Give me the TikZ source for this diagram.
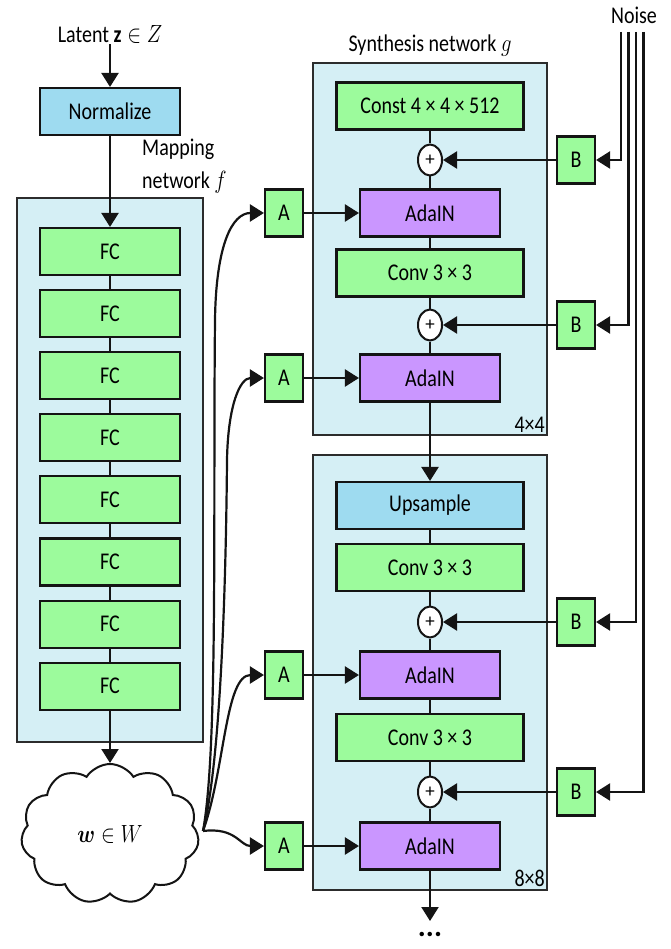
\documentclass[tikz,border=0pt]{standalone}
\usepackage{fontspec}
\setmainfont{Carlito}
\usepackage{bm}
\usepackage{graphicx}
\usetikzlibrary{arrows.meta,shapes.geometric,shapes.symbols}
\definecolor{grn}{HTML}{9CFB9C}
\definecolor{prp}{HTML}{CA96FF}
\definecolor{lblue}{HTML}{9EDBF0}
\definecolor{pane}{HTML}{D5EFF5}
\definecolor{edge}{HTML}{141414}
\newcommand{\vs}[1]{\scalebox{1}[1.2]{#1}}
\begin{document}
\begin{tikzpicture}[x=1pt,y=-1pt,
  txt/.style={font=\fontsize{20}{24}\selectfont, inner sep=1pt},
  blk/.style={draw=edge, line width=2.1pt, minimum height=47pt, inner sep=0pt, font=\fontsize{20}{24}\selectfont},
  gbox/.style={blk, fill=grn, minimum width=140pt},
  wbox/.style={blk, fill=grn, minimum width=187pt},
  bbox/.style={blk, fill=lblue, minimum width=140pt},
  ubox/.style={blk, fill=lblue, minimum width=187pt},
  pbox/.style={blk, fill=prp, minimum width=140pt},
  sbox/.style={blk, fill=grn, minimum width=38pt},
  panel/.style={draw=edge!90, line width=1.9pt, fill=pane, inner sep=0pt},
  plus/.style={ellipse, draw=edge, line width=2pt, fill=white, minimum width=24pt, minimum height=31pt, inner sep=0pt, font=\fontsize{19}{19}\selectfont},
  ln/.style={draw=edge, line width=2.2pt},
  arr/.style={ln, -{Triangle[length=14pt,width=17pt]}},
]
\useasboundingbox (0,0) rectangle (670,949);

% panels
\node[panel, minimum width=186pt, minimum height=544pt] (mappanel) at (110,470) {};
\node[panel, minimum width=234pt, minimum height=372pt] (syn1) at (430,249) {};
\node[panel, minimum width=234pt, minimum height=435pt] (syn2) at (430,672.5) {};

% labels
\node[txt] (lat) at (110,34) {\vs{Latent $\mathbf{z}\in Z$}};
\node[txt, anchor=west, align=left, font=\fontsize{20}{33}\selectfont] (maplbl) at (141,166) {\vs{Mapping}\\\vs{network $f$}};
\node[txt] (synlbl) at (430,46) {\vs{Synthesis network $g$}};
\node[txt] (noise) at (634,15) {\vs{Noise}};
\node[txt, anchor=south east] (r4) at (546,434) {\vs{4×4}};
\node[txt, anchor=south east] (r8) at (546,888) {\vs{8×8}};

% mapping network
\node[bbox] (norm) at (110,111.5) {\vs{Normalize}};
\foreach \i in {1,...,8} {
  \node[gbox] (fc\i) at (110,{251.5+62.1*(\i-1)}) {\vs{FC}};
}
\node[cloud, cloud puffs=11, cloud puff arc=115, aspect=1.3, draw=edge, line width=2pt, fill=white,
      minimum width=178pt, minimum height=140pt, inner sep=0pt] (w) at (110,834)
      {\fontsize{20}{24}\selectfont\vs{$\bm{w}\in W$}};

\draw[arr] (lat.south) -- (norm.north);
\draw[arr] (norm.south) -- (fc1.north);
\foreach \i [evaluate=\i as \j using int(\i+1)] in {1,...,7} {
  \draw[ln] (fc\i.south) -- (fc\j.north);
}
\draw[arr] (fc8.south) -- (w.north);

% synthesis block 4x4
\node[wbox] (const) at (430,106) {\vs{Const 4 × 4 × 512}};
\node[plus] (p1) at (430,160) {+};
\node[pbox] (ada1) at (430,213) {\vs{AdaIN}};
\node[wbox] (conv1) at (430,273) {\vs{Conv 3 × 3}};
\node[plus] (p2) at (430,325) {+};
\node[pbox] (ada2) at (430,378) {\vs{AdaIN}};

% synthesis block 8x8
\node[ubox] (up) at (430,505.5) {\vs{Upsample}};
\node[wbox] (conv2) at (430,567.5) {\vs{Conv 3 × 3}};
\node[plus] (p3) at (430,622) {+};
\node[pbox] (ada3) at (430,675) {\vs{AdaIN}};
\node[wbox] (conv3) at (430,737.5) {\vs{Conv 3 × 3}};
\node[plus] (p4) at (430,792) {+};
\node[pbox] (ada4) at (430,846) {\vs{AdaIN}};
\node[txt, font=\fontsize{30}{30}\selectfont\bfseries] (dots) at (430,934) {...};
\coordinate (outp) at (430,921);

% A and B boxes
\node[sbox] (a1) at (284,213) {\vs{A}};
\node[sbox] (a2) at (284,378) {\vs{A}};
\node[sbox] (a3) at (284,675) {\vs{A}};
\node[sbox] (a4) at (284,846) {\vs{A}};
\node[sbox] (b1) at (576,160) {\vs{B}};
\node[sbox] (b2) at (576,325) {\vs{B}};
\node[sbox] (b3) at (576,622) {\vs{B}};
\node[sbox] (b4) at (576,792) {\vs{B}};

% internal connections
\draw[ln] (const.south) -- (p1.north);
\draw[ln] (p1.south) -- (ada1.north);
\draw[ln] (ada1.south) -- (conv1.north);
\draw[ln] (conv1.south) -- (p2.north);
\draw[ln] (p2.south) -- (ada2.north);
\draw[arr] (ada2.south) -- (up.north);
\draw[ln] (up.south) -- (conv2.north);
\draw[ln] (conv2.south) -- (p3.north);
\draw[ln] (p3.south) -- (ada3.north);
\draw[ln] (ada3.south) -- (conv3.north);
\draw[ln] (conv3.south) -- (p4.north);
\draw[ln] (p4.south) -- (ada4.north);
\draw[arr] (ada4.south) -- (outp);

% A -> AdaIN, B -> plus
\foreach \i in {1,2,3,4} {
  \draw[arr] (a\i.east) -- (ada\i.west);
  \draw[arr] (b\i.west) -- (p\i.east);
}

% noise lines
\coordinate (n1) at (621,32);
\coordinate (n2) at (628.5,32);
\coordinate (n3) at (636,32);
\coordinate (n4) at (643.5,32);
\foreach \i in {1,2,3,4} {
  \draw[arr] (n\i) |- (b\i.east);
}

% w -> A curves
\coordinate (wout) at (203,831);
\draw[arr] (wout) .. controls (218,750) and (213,520) .. (215,320)
   .. controls (216,245) and (232,213) .. (a1.west);
\draw[arr] (wout) .. controls (221,760) and (226,580) .. (227,460)
   .. controls (228,405) and (240,378) .. (a2.west);
\draw[arr] (wout) .. controls (225,770) and (225,675) .. (a3.west);
\draw[arr] (wout) .. controls (236,827) and (240,846) .. (a4.west);
\end{tikzpicture}
\end{document}
